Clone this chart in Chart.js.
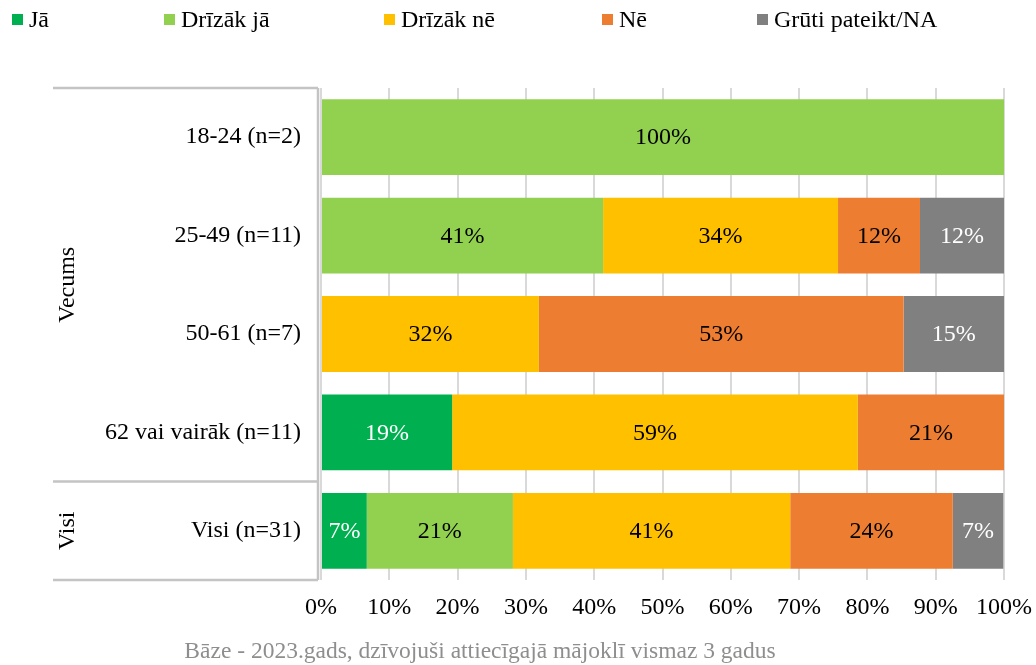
<!DOCTYPE html>
<html>
<head>
<meta charset="utf-8">
<script src="https://cdn.jsdelivr.net/npm/chart.js@4"></script>
<style>
html,body{margin:0;padding:0;background:#fff;}
#wrap{width:1036px;height:665px;position:relative;}
</style>
</head>
<body>
<div id="wrap"><canvas id="c" width="1036" height="665"></canvas></div>
<script>
const categories = ["18-24 (n=2)", "25-49 (n=11)", "50-61 (n=7)", "62 vai vairāk (n=11)", "Visi (n=31)"];
const seriesNames = ["Jā", "Drīzāk jā", "Drīzāk nē", "Nē", "Grūti pateikt/NA"];
const ja        = [0,    0,    0,    19.2, 6.7];
const drizakJa  = [100,  41.3, 0,    0,    21.4];
const drizakNe  = [0,    34.4, 31.9, 59.4, 40.6];
const ne        = [0,    12.0, 53.4, 21.4, 23.8];
const gruti     = [0,    12.3, 14.7, 0,    7.4];
const xTicks = [0, 10, 20, 30, 40, 50, 60, 70, 80, 90, 100];
const groups = [{label: "Vecums", from: 0, to: 3}, {label: "Visi", from: 4, to: 4}];
const footnote = "Bāze - 2023.gads, dzīvojuši attiecīgajā mājoklī vismaz 3 gadus";

const colors = ["#00B050", "#92D050", "#FFC000", "#ED7D31", "#808080"];
const labelColors = ["#ffffff", "#000000", "#000000", "#000000", "#ffffff"];
const legendX = [12, 164, 384, 602, 757];
const FONT = "'Liberation Serif', 'Times New Roman', serif";
const seriesData = [ja, drizakJa, drizakNe, ne, gruti];

const datasets = seriesNames.map((n, i) => ({
  label: n,
  data: seriesData[i],
  backgroundColor: colors[i],
  borderWidth: 0,
  categoryPercentage: 1,
  barPercentage: 0.77
}));

const extras = {
  id: 'extras',
  afterDatasetsDraw(chart) {
    const ctx = chart.ctx;
    ctx.save();
    ctx.font = "24px " + FONT;
    ctx.textAlign = 'center';
    ctx.textBaseline = 'middle';
    chart.data.datasets.forEach((ds, di) => {
      const meta = chart.getDatasetMeta(di);
      meta.data.forEach((el, i) => {
        const v = ds.data[i];
        if (!v) return;
        const cx = (el.x + el.base) / 2;
        ctx.fillStyle = labelColors[di];
        ctx.fillText(Math.round(v) + "%", cx, el.y + 1);
      });
    });
    ctx.restore();
  },
  afterDraw(chart) {
    const ctx = chart.ctx;
    const area = chart.chartArea;
    ctx.save();
    // legend
    ctx.font = "24px " + FONT;
    ctx.textBaseline = 'middle';
    ctx.textAlign = 'left';
    seriesNames.forEach((n, i) => {
      ctx.fillStyle = colors[i];
      ctx.fillRect(legendX[i], 14, 11, 11);
      ctx.fillStyle = "#000";
      ctx.fillText(n, legendX[i] + 17, 21);
    });
    // brackets
    const band = (area.bottom - area.top) / categories.length;
    ctx.strokeStyle = "#C4C4C4";
    ctx.lineWidth = 2.5;
    const xl = 53, xr = 318;
    ctx.beginPath();
    ctx.moveTo(xr, area.top); ctx.lineTo(xr, area.bottom);
    const lines = [area.top];
    groups.forEach(g => lines.push(area.top + band * (g.to + 1)));
    lines.forEach(y => { ctx.moveTo(xl, y); ctx.lineTo(xr, y); });
    ctx.stroke();
    // group labels
    ctx.fillStyle = "#000";
    ctx.font = "24px " + FONT;
    ctx.textAlign = 'center';
    ctx.textBaseline = 'middle';
    groups.forEach(g => {
      const cy = area.top + band * (g.from + g.to + 1) / 2;
      ctx.save();
      ctx.translate(68, cy);
      ctx.rotate(-Math.PI / 2);
      ctx.fillText(g.label, 0, 0);
      ctx.restore();
    });
    // footnote
    ctx.fillStyle = "#8E8E8E";
    ctx.font = "23.5px " + FONT;
    ctx.textAlign = 'center';
    ctx.fillText(footnote, 480, 652);
    ctx.restore();
  }
};

new Chart(document.getElementById('c'), {
  type: 'bar',
  data: { labels: categories, datasets },
  options: {
    indexAxis: 'y',
    responsive: false,
    animation: false,
    layout: { padding: { top: 88, right: 32, bottom: 0, left: 0 } },
    plugins: { legend: { display: false }, tooltip: { enabled: false } },
    scales: {
      x: {
        stacked: true,
        min: 0, max: 100,
        afterBuildTicks(scale) { scale.ticks = xTicks.map(v => ({ value: v })); },
        afterFit(scale) { scale.height = 85; scale.paddingRight = 0; scale.paddingLeft = 0; },
        ticks: {
          callback: v => v + "%",
          font: { family: FONT, size: 24 },
          color: "#000",
          padding: 13,
          maxRotation: 0
        },
        grid: { color: "#D9D9D9", lineWidth: 2, drawTicks: false },
        border: { display: false }
      },
      y: {
        stacked: true,
        afterFit(scale) { scale.width = 321; scale.paddingTop = 0; scale.paddingBottom = 0; },
        ticks: {
          font: { family: FONT, size: 24 },
          color: "#000",
          padding: 20
        },
        grid: { display: false, drawTicks: false },
        border: { display: false }
      }
    }
  },
  plugins: [extras]
});
</script>
</body>
</html>
